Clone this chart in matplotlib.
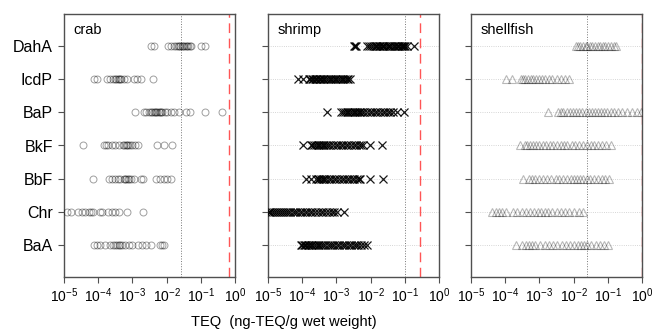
import numpy as np
import matplotlib
matplotlib.use("Agg")
import matplotlib.pyplot as plt
from matplotlib.ticker import LogLocator, LogFormatterSciNotation, NullLocator

plt.rcParams['font.family'] = ['Liberation Sans', 'DejaVu Sans']
plt.rcParams['mathtext.fontset'] = 'custom'
plt.rcParams['mathtext.rm'] = 'Liberation Sans'
plt.rcParams['mathtext.it'] = 'Liberation Sans:italic'
plt.rcParams['mathtext.bf'] = 'Liberation Sans:bold'

categories = ["BaA", "Chr", "BbF", "BkF", "BaP", "IcdP", "DahA"]
panels = ["crab", "shrimp", "shellfish"]

# log10(TEQ) values
crab_DahA = [-2.47, -2.36, -1.96, -1.88, -1.78, -1.72, -1.68, -1.64, -1.60, -1.56, -1.52, -1.48, -1.44,
             -1.40, -1.36, -1.32, -1.28, -0.98, -0.88]
crab_IcdP = [-4.11, -4.04, -3.75, -3.65, -3.57, -3.52, -3.47, -3.43, -3.40, -3.36, -3.33, -3.25, -3.16,
             -2.96, -2.88, -2.75, -2.39]
crab_BaP = [-2.91, -2.67, -2.59, -2.52, -2.46, -2.42, -2.38, -2.35, -2.31, -2.27, -2.23, -2.20, -2.16,
            -2.13, -2.06, -1.98, -1.88, -1.78, -1.64, -1.44, -1.31, -0.88, -0.39]
crab_BkF = [-4.45, -3.82, -3.76, -3.70, -3.60, -3.50, -3.40, -3.28, -3.24, -3.20, -3.16, -3.12, -3.08,
            -3.01, -2.91, -2.84, -2.29, -2.08, -1.83]
crab_BbF = [-4.16, -3.67, -3.60, -3.50, -3.43, -3.35, -3.25, -3.21, -3.18, -3.14, -3.11, -3.04, -2.96,
            -2.76, -2.70, -2.32, -2.20, -2.08, -1.98, -1.86]
crab_Chr = [-4.92, -4.80, -4.58, -4.48, -4.38, -4.28, -4.22, -4.14, -3.96, -3.89, -3.70, -3.60, -3.50,
            -3.40, -3.16, -2.70]
crab_BaA = [-4.12, -4.04, -3.94, -3.79, -3.65, -3.57, -3.50, -3.45, -3.40, -3.35, -3.30, -3.21, -3.11,
            -3.01, -2.84, -2.72, -2.59, -2.47, -2.20, -2.13, -2.08]

shrimp_DahA = [-2.50, -2.45, -2.42, -2.11, -2.05, -1.98, -1.93, -1.88, -1.84, -1.80, -1.76, -1.72, -1.68,
               -1.64, -1.60, -1.55, -1.50, -1.46, -1.42, -1.37, -1.33, -1.28, -1.24, -1.20, -1.16, -1.12,
               -1.08, -1.05, -1.02, -0.98, -0.95, -0.74]
shrimp_IcdP = [-4.13, -3.99, -3.80, -3.76, -3.72, -3.68, -3.64, -3.60, -3.56, -3.52, -3.48, -3.44, -3.40,
               -3.35, -3.30, -3.25, -3.20, -3.15, -3.10, -3.05, -3.00, -2.95, -2.90, -2.85, -2.80, -2.75,
               -2.70, -2.65, -2.60]
shrimp_BaP = [-3.27, -2.88, -2.82, -2.75, -2.70, -2.65, -2.60, -2.55, -2.50, -2.45, -2.40, -2.35, -2.30,
              -2.25, -2.18, -2.10, -2.02, -1.95, -1.88, -1.80, -1.72, -1.65, -1.58, -1.50, -1.42, -1.34,
              -1.23, -1.03]
shrimp_BkF = [-3.99, -3.75, -3.70, -3.65, -3.60, -3.55, -3.50, -3.45, -3.40, -3.35, -3.30, -3.25, -3.18,
              -3.10, -3.02, -2.95, -2.88, -2.80, -2.72, -2.65, -2.58, -2.50, -2.42, -2.35, -2.28, -2.21,
              -2.01, -1.68]
shrimp_BbF = [-3.89, -3.75, -3.60, -3.55, -3.50, -3.45, -3.40, -3.35, -3.30, -3.22, -3.15, -3.08, -3.00,
              -2.92, -2.85, -2.78, -2.70, -2.62, -2.55, -2.48, -2.40, -2.34, -2.30, -2.01, -1.65]
shrimp_Chr = [-4.98, -4.93, -4.88, -4.83, -4.77, -4.71, -4.65, -4.59, -4.53, -4.47, -4.41, -4.35, -4.28,
              -4.21, -4.14, -4.07, -4.00, -3.93, -3.86, -3.78, -3.70, -3.62, -3.54, -3.46, -3.38, -3.30,
              -3.22, -3.14, -3.06, -2.98, -2.77]
shrimp_BaA = [-4.04, -4.00, -3.96, -3.92, -3.88, -3.84, -3.80, -3.75, -3.70, -3.65, -3.60, -3.55, -3.50,
              -3.44, -3.38, -3.32, -3.26, -3.20, -3.13, -3.06, -2.99, -2.92, -2.85, -2.78, -2.71, -2.64,
              -2.57, -2.50, -2.43, -2.36, -2.28, -2.20, -2.11]

shellfish_DahA = [-1.93, -1.86, -1.80, -1.72, -1.65, -1.60, -1.52, -1.45, -1.38, -1.30, -1.22, -1.15,
                  -1.07, -0.98, -0.90, -0.82, -0.75]
shellfish_IcdP = [-3.98, -3.80, -3.55, -3.48, -3.42, -3.33, -3.25, -3.18, -3.10, -3.02, -2.92, -2.85,
                  -2.72, -2.62, -2.50, -2.38, -2.25, -2.12]
shellfish_BaP = [-2.76, -2.45, -2.38, -2.30, -2.20, -2.10, -2.02, -1.92, -1.85, -1.75, -1.65, -1.55,
                 -1.45, -1.38, -1.30, -1.20, -1.10, -1.02, -0.92, -0.82, -0.70, -0.58, -0.45, -0.30,
                 -0.15, -0.04]
shellfish_BkF = [-3.57, -3.42, -3.35, -3.28, -3.20, -3.10, -3.02, -2.90, -2.80, -2.70, -2.60, -2.50,
                 -2.38, -2.28, -2.18, -2.05, -1.95, -1.85, -1.72, -1.60, -1.50, -1.40, -1.30, -1.18,
                 -1.05, -0.92]
shellfish_BbF = [-3.47, -3.30, -3.22, -3.12, -3.00, -2.90, -2.78, -2.65, -2.52, -2.42, -2.30, -2.18,
                 -2.08, -1.98, -1.90, -1.82, -1.72, -1.62, -1.52, -1.40, -1.28, -1.18, -1.08, -0.96]
shellfish_Chr = [-4.40, -4.28, -4.18, -4.08, -3.98, -3.78, -3.65, -3.52, -3.40, -3.28, -3.15, -3.05,
                 -2.95, -2.85, -2.75, -2.62, -2.50, -2.38, -2.25, -2.12, -1.98, -1.85, -1.72]
shellfish_BaA = [-3.69, -3.50, -3.40, -3.30, -3.22, -3.12, -2.98, -2.85, -2.72, -2.60, -2.48, -2.35,
                 -2.22, -2.10, -1.98, -1.88, -1.78, -1.70, -1.60, -1.48, -1.35, -1.22, -1.10, -0.99]

crab_data = [crab_BaA, crab_Chr, crab_BbF, crab_BkF, crab_BaP, crab_IcdP, crab_DahA]
shrimp_data = [shrimp_BaA, shrimp_Chr, shrimp_BbF, shrimp_BkF, shrimp_BaP, shrimp_IcdP, shrimp_DahA]
shellfish_data = [shellfish_BaA, shellfish_Chr, shellfish_BbF, shellfish_BkF, shellfish_BaP,
                  shellfish_IcdP, shellfish_DahA]

dotted_ref = [0.026, 0.1, 0.024]
red_ref = [0.68, 0.27, 1.0]
x_label = "TEQ  (ng-TEQ/g wet weight)"

W, H = 655, 335
fig = plt.figure(figsize=(W / 100, H / 100), dpi=100)
lefts = [64, 268, 471]
pw = 171
top, bot = 14, 277

styles = [
    dict(marker='o', ms=5.0, mfc='none', mec=(0, 0, 0, 0.38), mew=0.7, ls='none'),
    dict(marker='x', ms=5.6, mfc='none', mec=(0, 0, 0, 0.9), mew=0.9, ls='none'),
    dict(marker='^', ms=6.0, mfc='none', mec=(0, 0, 0, 0.28), mew=0.8, ls='none'),
]
all_data = [crab_data, shrimp_data, shellfish_data]

spine_col = '#505050'
for i, name in enumerate(panels):
    ax = fig.add_axes([lefts[i] / W, 1 - bot / H, pw / W, (bot - top) / H])
    ax.set_xscale('log')
    ax.set_xlim(1e-5, 1e0)
    ax.set_ylim(0.04, 7.96)
    if i > 0:
        for k in range(len(categories)):
            ax.axhline(k + 1, color='#c8c8c8', lw=0.6, ls=':', zorder=0)
    ax.axvline(dotted_ref[i], color='#777777', lw=0.7, ls=':', zorder=1)
    ax.axvline(red_ref[i], color='#ff5555', lw=1.0, ls=(0, (7, 4)), zorder=1)
    for k, vals in enumerate(all_data[i]):
        xv = 10.0 ** np.array(vals)
        ax.plot(xv, np.full(len(xv), k + 1), clip_on=True, zorder=3, **styles[i])
    ax.set_yticks(range(1, len(categories) + 1))
    if i == 0:
        ax.set_yticklabels(categories, fontsize=11.5)
    else:
        ax.set_yticklabels([])
    ax.xaxis.set_major_locator(LogLocator(base=10, numticks=10))
    ax.xaxis.set_major_formatter(LogFormatterSciNotation())
    ax.xaxis.set_minor_locator(NullLocator())
    ax.tick_params(axis='both', direction='out', length=4, width=0.8, color=spine_col,
                   labelsize=10, pad=3)
    ax.tick_params(axis='y', pad=4, labelsize=11.5)
    for s in ax.spines.values():
        s.set_color(spine_col)
        s.set_linewidth(1.0)
    ax.text(0.055, 0.965, name, transform=ax.transAxes, ha='left', va='top', fontsize=10.5)

fig.text(284 / W, 1 - 322 / H, x_label, ha='center', va='center', fontsize=10.5)
fig.savefig("out.png", dpi=100)
